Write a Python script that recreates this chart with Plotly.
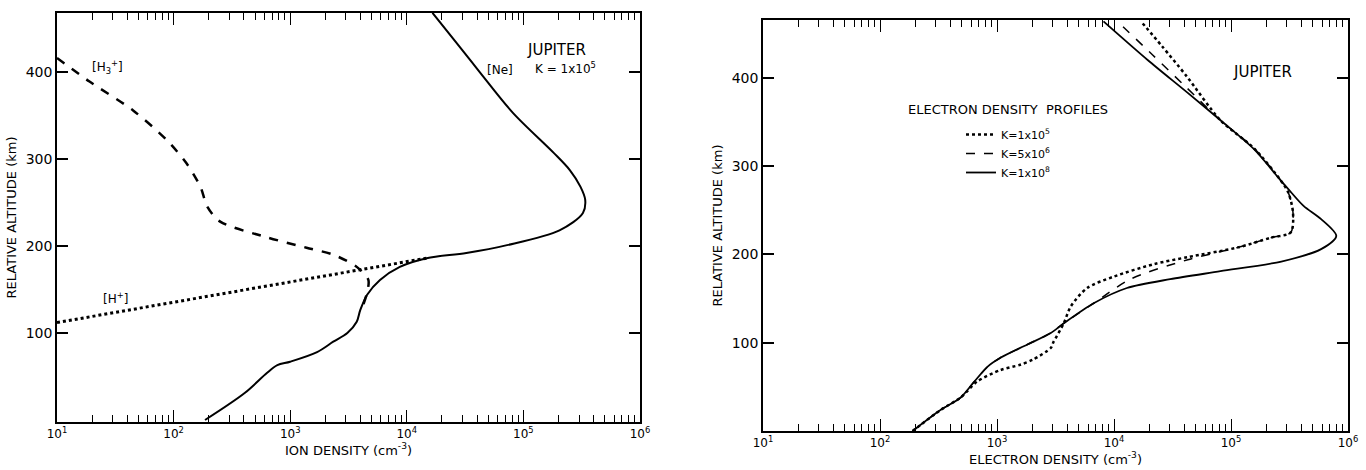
import plotly.graph_objects as go

# ---------------- Left panel: ion densities (cm^-3) vs relative altitude (km)
ne_density = [186, 407, 631, 776, 1000, 1700, 2340, 3090, 3720, 3980, 4570, 5890, 8710,
              14800, 32400, 72400, 204000, 324000, 339000, 309000, 251000, 182000,
              81300, 42700, 26900, 16600]
ne_alt = [0, 31, 54, 63, 67, 78, 90, 100, 113, 126, 144, 161, 176,
          186, 192, 201, 218, 238, 253, 268, 287, 307, 353, 399, 433, 468]

h3_density = [10, 19, 44.7, 87, 129, 170, 195, 251, 631, 1380, 2340, 3720, 4680, 4570, 4170, 3980]
h3_alt = [416, 389, 356, 322, 295, 268, 245, 228, 210, 198, 190, 176, 161, 147, 130, 124]

hplus_density = [10, 1000, 14800]
hplus_alt = [112, 158.6, 186]

# ---------------- Right panel: electron density profiles
k8_density = [190, 331, 490, 631, 832, 1070, 1820, 2880, 3720, 6760, 12900, 30200, 81300,
              269000, 589000, 794000, 589000, 417000, 309000, 269000, 158000, 81300,
              42700, 19500, 8130]
k8_alt = [0, 24, 38, 55, 73, 83, 98, 111, 122, 145, 162, 172, 181,
          192, 206, 221, 240, 255, 274, 283, 319, 352, 383, 420, 464]

k5_density = [190, 331, 490, 676, 1070, 1580, 2040, 2880, 3020, 3720, 4270, 5890, 10000,
              21900, 42700, 115000, 219000, 324000, 339000, 309000, 269000, 158000,
              81300, 41700, 25700, 17000]
k5_alt = [0, 24, 38, 56, 69, 75, 81, 94, 100, 122, 141, 162, 175,
          189, 197, 208, 219, 225, 247, 270, 283, 320, 352, 402, 436, 464]

k6_density = [190, 331, 490, 631, 832, 1070, 1820, 2880, 3720, 6760, 13800, 42700, 115000,
              219000, 324000, 339000, 309000, 269000, 158000, 81300, 41700, 21400, 10700]
k6_alt = [0, 24, 38, 55, 73, 83, 98, 111, 122, 145, 172, 194, 208,
          219, 225, 247, 270, 283, 320, 352, 389, 426, 464]

x_tickvals = [10, 100, 1000, 10000, 100000, 1000000]
x_ticktext = ["10<sup>1</sup>", "10<sup>2</sup>", "10<sup>3</sup>", "10<sup>4</sup>",
              "10<sup>5</sup>", "10<sup>6</sup>"]
y_tickvals = [100, 200, 300, 400]

FONT = "DejaVu Sans"
W, H = 1366, 470

fig = go.Figure()

# Left panel traces
fig.add_trace(go.Scatter(x=ne_density, y=ne_alt, mode="lines", showlegend=False,
                         line=dict(color="black", width=2, shape="spline", smoothing=0.9),
                         xaxis="x", yaxis="y"))
fig.add_trace(go.Scatter(x=h3_density, y=h3_alt, mode="lines", showlegend=False,
                         line=dict(color="black", width=2.5, dash="dash", shape="spline", smoothing=0.8),
                         xaxis="x", yaxis="y"))
fig.add_trace(go.Scatter(x=hplus_density, y=hplus_alt, mode="lines", showlegend=False,
                         line=dict(color="black", width=3, dash="dot"),
                         xaxis="x", yaxis="y"))

# Right panel traces
fig.add_trace(go.Scatter(x=k5_density, y=k5_alt, mode="lines", name="K=1x10<sup>5</sup>",
                         line=dict(color="black", width=2.5, dash="dot", shape="spline", smoothing=0.8),
                         xaxis="x2", yaxis="y2"))
fig.add_trace(go.Scatter(x=k6_density, y=k6_alt, mode="lines", name="K=5x10<sup>6</sup>",
                         line=dict(color="black", width=1.5, dash="dash", shape="spline", smoothing=0.8),
                         xaxis="x2", yaxis="y2"))
fig.add_trace(go.Scatter(x=k8_density, y=k8_alt, mode="lines", name="K=1x10<sup>8</sup>",
                         line=dict(color="black", width=1.8, shape="spline", smoothing=0.8),
                         xaxis="x2", yaxis="y2"))


def xaxis_cfg(domain, title, standoff):
    return dict(domain=domain, type="log", range=[1, 6], automargin=False,
                tickvals=x_tickvals, ticktext=x_ticktext,
                ticks="inside", ticklen=12, tickwidth=1.2, tickcolor="black",
                minor=dict(ticks="inside", ticklen=7, tickwidth=1, tickcolor="black",
                           dtick="D1", showgrid=False),
                showline=True, linecolor="black", linewidth=1.5, mirror="ticks",
                showgrid=False, zeroline=False,
                tickfont=dict(family=FONT, size=12, color="black"),
                title=dict(text=title, font=dict(family=FONT, size=13, color="black"), standoff=standoff))


def yaxis_cfg(domain, rng, anchor):
    return dict(domain=domain, range=rng, anchor=anchor, automargin=False,
                tickvals=y_tickvals, ticks="inside", ticklen=11, tickwidth=1.5, tickcolor="black",
                showline=True, linecolor="black", linewidth=1.5, mirror="ticks",
                showgrid=False, zeroline=False,
                tickfont=dict(family=FONT, size=14, color="black"),
                title=dict(text="RELATIVE ALTITUDE (km)",
                           font=dict(family=FONT, size=13, color="black"), standoff=6))


fig.update_layout(
    width=W, height=H,
    margin=dict(l=0, r=0, t=0, b=0, autoexpand=False),
    paper_bgcolor="white", plot_bgcolor="white",
    font=dict(family=FONT, color="black"),
    xaxis=dict(**xaxis_cfg([57 / W, 640 / W], "ION DENSITY (cm<sup>-3</sup>)", 2), anchor="y"),
    yaxis=yaxis_cfg([1 - 422 / H, 1 - 13 / H], [-2.3, 467.8], "x"),
    xaxis2=dict(**xaxis_cfg([763 / W, 1348 / W], "ELECTRON DENSITY (cm<sup>-3</sup>)", 2), anchor="y2"),
    yaxis2=yaxis_cfg([1 - 431 / H, 1 - 20 / H], [0, 465.6], "x2"),
    showlegend=True,
    legend=dict(x=961 / W, y=1 - 120 / H, xanchor="left", yanchor="top",
                bgcolor="rgba(0,0,0,0)", borderwidth=0, itemwidth=30,
                font=dict(family=FONT, size=11, color="black"), tracegroupgap=0),
)

ann_font = dict(family=FONT, size=12, color="black")
annotations = [
    dict(x=1.43, y=406, xref="x", yref="y", text="[H<sub>3</sub><sup>+</sup>]", showarrow=False, font=ann_font),
    dict(x=1.50, y=140, xref="x", yref="y", text="[H<sup>+</sup>]", showarrow=False, font=ann_font),
    dict(x=4.80, y=402, xref="x", yref="y", text="[Ne]", showarrow=False, font=ann_font),
    dict(x=5.28, y=425, xref="x", yref="y", text="JUPITER", showarrow=False,
         font=dict(family=FONT, size=15, color="black")),
    dict(x=5.36, y=405, xref="x", yref="y", text="K = 1x10<sup>5</sup>", showarrow=False, font=ann_font),
    dict(x=5.27, y=407, xref="x2", yref="y2", text="JUPITER", showarrow=False,
         font=dict(family=FONT, size=15, color="black")),
    dict(x=3.09, y=364, xref="x2", yref="y2", text="ELECTRON DENSITY  PROFILES", showarrow=False,
         font=dict(family=FONT, size=13, color="black")),
]
fig.update_layout(annotations=annotations)

fig.write_html("out.html", config={"displayModeBar": False},
               post_script="document.body.style.margin='0';")
